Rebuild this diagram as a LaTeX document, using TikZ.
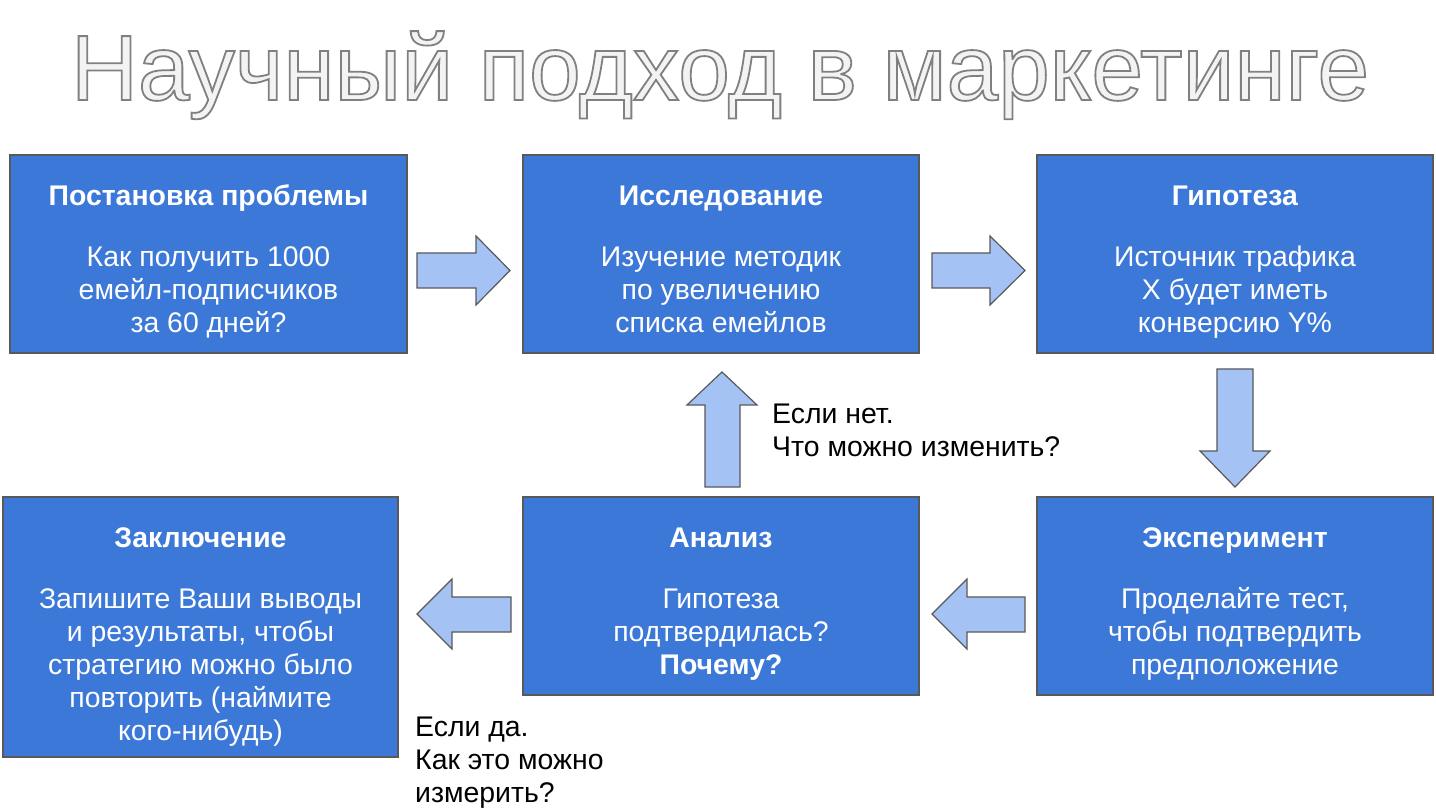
\documentclass[tikz,border=0pt]{standalone}
\usepackage{fontspec}
\setmainfont{Liberation Sans}
\definecolor{boxblue}{HTML}{3C78D8}
\definecolor{boxline}{HTML}{595959}
\definecolor{arrowfill}{HTML}{A4C2F4}
\definecolor{titlefill}{HTML}{F3F3F3}
\tikzset{
  box/.style={draw=boxline, fill=boxblue, line width=1.5pt, inner sep=0pt},
  txt/.style={text=white, align=center, anchor=north, inner sep=0pt, font=\fontsize{28.4}{33}\selectfont},
  note/.style={text=black, align=left, anchor=north west, inner sep=0pt, font=\fontsize{28.4}{33}\selectfont},
  blockarrow/.style={draw=boxline, fill=arrowfill, line width=1.2pt, line join=miter},
}
\begin{document}
\begin{tikzpicture}[x=1pt,y=-1pt]
\useasboundingbox (0,0) rectangle (1436,810);
\fill[white] (0,0) rectangle (1436,810);

% title
\node (title) [anchor=base, inner sep=0pt, font=\fontsize{92.8}{100}\selectfont] at (720,100)
  {\color{titlefill}\special{pdf:literal direct 0.5 0.5 0.5 RG 1.8 w 2 Tr}Научный подход в маркетинге\special{pdf:literal direct 0 Tr}};

% boxes
\node[box, minimum width=397pt, minimum height=198pt] (b1) at (208.5,254) {};
\node[box, minimum width=396pt, minimum height=198pt] (b2) at (721,254) {};
\node[box, minimum width=396pt, minimum height=198pt] (b3) at (1235,254) {};
\node[box, minimum width=395pt, minimum height=260pt] (b4) at (200.5,627) {};
\node[box, minimum width=396pt, minimum height=198pt] (b5) at (721,596) {};
\node[box, minimum width=396pt, minimum height=198pt] (b6) at (1235,596) {};

% box texts
\node[txt] (t1) at ([yshift=-28pt]b1.north) {\strut\textbf{Постановка проблемы}\\[28pt]Как получить 1000\\емейл-подписчиков\\за 60 дней?};
\node[txt] (t2) at ([yshift=-28pt]b2.north) {\strut\textbf{Исследование}\\[28pt]Изучение методик\\по увеличению\\списка емейлов};
\node[txt] (t3) at ([yshift=-28pt]b3.north) {\strut\textbf{Гипотеза}\\[28pt]Источник трафика\\X будет иметь\\конверсию Y\%};
\node[txt] (t4) at ([yshift=-28pt]b4.north) {\strut\textbf{Заключение}\\[28pt]Запишите Ваши выводы\\и результаты, чтобы\\стратегию можно было\\повторить (наймите\\кого-нибудь)};
\node[txt] (t5) at ([yshift=-28pt]b5.north) {\strut\textbf{Анализ}\\[28pt]Гипотеза\\подтвердилась?\\\textbf{Почему?}};
\node[txt] (t6) at ([yshift=-28pt]b6.north) {\strut\textbf{Эксперимент}\\[28pt]Проделайте тест,\\чтобы подтвердить\\предположение};

% notes
\node[note] (n1) at (772,400) {\strut Если нет.\\Что можно изменить?};
\node[note] (n2) at (415,713) {\strut Если да.\\Как это можно\\измерить?};

% block arrows
\draw[blockarrow] (417,253) -- (476,253) -- (476,236) -- (510,270.5) -- (476,305) -- (476,288) -- (417,288) -- cycle;
\draw[blockarrow] (932,253) -- (990,253) -- (990,236) -- (1025,270.5) -- (990,305) -- (990,288) -- (932,288) -- cycle;
\draw[blockarrow] (511,597) -- (452,597) -- (452,579) -- (417,614) -- (452,649) -- (452,632) -- (511,632) -- cycle;
\draw[blockarrow] (1025,597) -- (967,597) -- (967,579) -- (932,614) -- (967,649) -- (967,632) -- (1025,632) -- cycle;
\draw[blockarrow] (1217,369) -- (1253,369) -- (1253,451) -- (1270,451) -- (1235,487) -- (1200,451) -- (1217,451) -- cycle;
\draw[blockarrow] (705,487) -- (740,487) -- (740,405) -- (757,405) -- (722,372) -- (687,405) -- (705,405) -- cycle;
\end{tikzpicture}
\end{document}
